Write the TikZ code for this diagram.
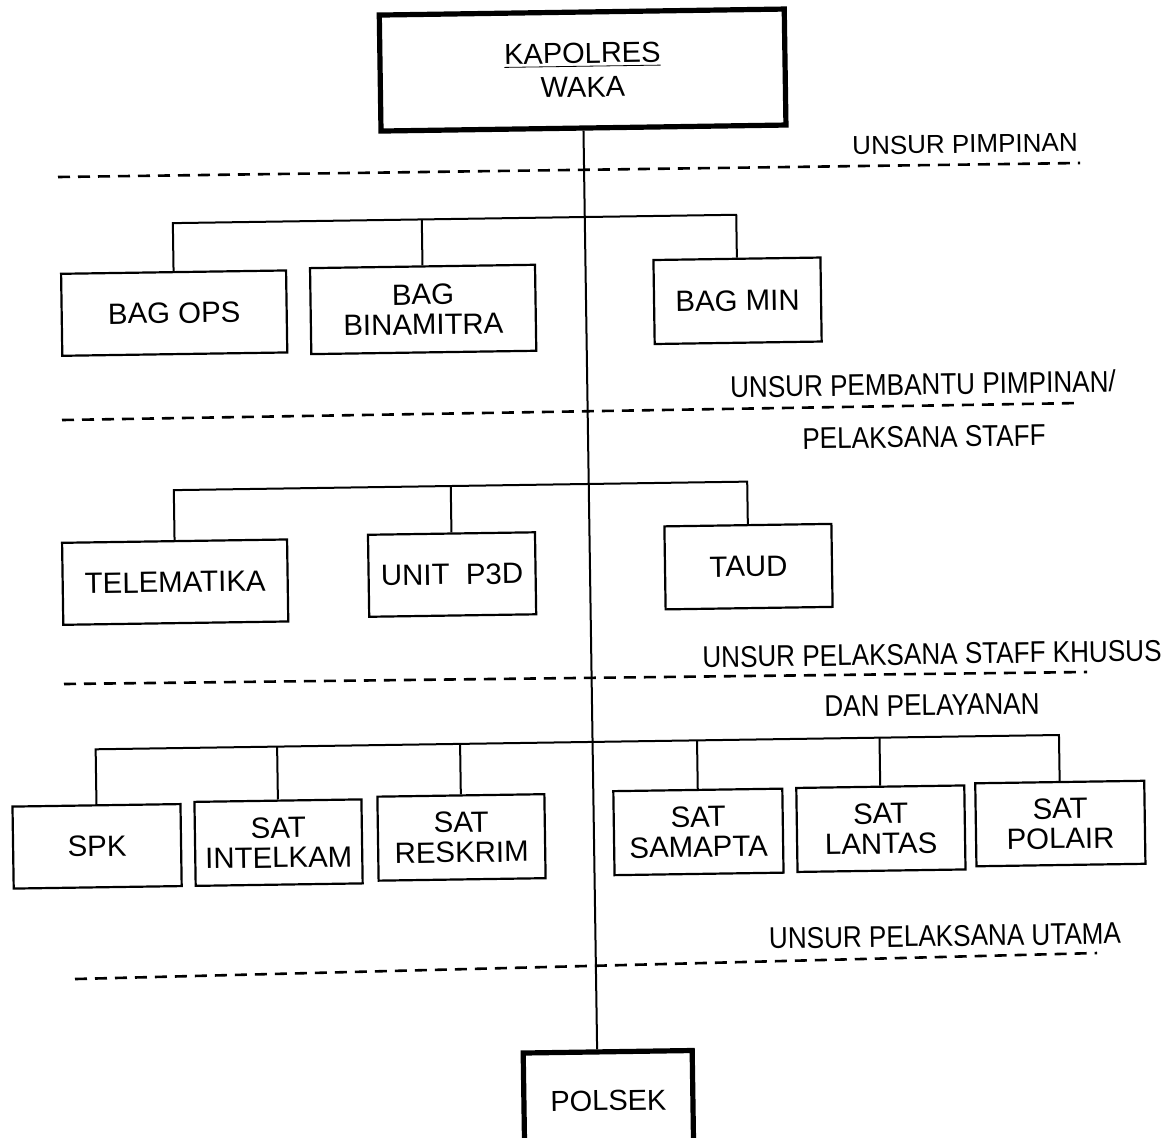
\documentclass[tikz,border=0pt]{standalone}
\usepackage{fontspec}
\setmainfont{Liberation Sans}
\newfontfamily\labelfont[FakeStretch=0.87]{Liberation Sans}
\begin{document}
\begin{tikzpicture}[x=0.5pt,y=-0.5pt,
  box/.style={draw, line width=1.1pt, align=center, inner sep=0pt, font=\fontsize{14.7}{15}\selectfont},
  headbox/.style={draw, line width=2.6pt, align=center, inner sep=0pt},
  conn/.style={line width=1pt},
  sep/.style={line width=1.3pt, dash pattern=on 6pt off 4pt},
  lab/.style={font=\labelfont\fontsize{15}{18}\selectfont, inner sep=0pt, rotate=0.85},
  labn/.style={font=\fontsize{13}{16}\selectfont, inner sep=0pt, rotate=0.85}]
\useasboundingbox (0,0) rectangle (1176,1137);
\clip (0,0) rectangle (1176,1137);
\fill[white] (0,0) rectangle (1176,1137);
\begin{scope}[rotate around={0.85:(588,568)}, transform shape]
  % head
  \node[headbox, minimum width=202.5pt, minimum height=58pt,
        font=\fontsize{14.5}{17}\selectfont] (kap) at (590,70) {\underline{KAPOLRES}\\WAKA};
  % tier 1
  \node[box, minimum width=112.5pt, minimum height=41pt] (ops) at (178,307) {BAG OPS};
  \node[box, minimum width=112.5pt, minimum height=43pt] (bin) at (427,307) {BAG\\BINAMITRA};
  \node[box, minimum width=83.5pt, minimum height=42pt] (min) at (741.5,303) {BAG MIN};
  % tier 2
  \node[box, minimum width=112.5pt, minimum height=41pt] (tel) at (175,576) {TELEMATIKA};
  \node[box, minimum width=83.5pt, minimum height=41pt] (p3d) at (452,572.5) {UNIT~~P3D};
  \node[box, minimum width=83.5pt, minimum height=41.5pt] (taud) at (748.5,569) {TAUD};
  % tier 3
  \node[box, minimum width=84pt, minimum height=41pt] (spk) at (93,839) {SPK};
  \node[box, minimum width=83.5pt, minimum height=42pt] (int) at (274.5,838) {SAT\\INTELKAM};
  \node[box, minimum width=83.5pt, minimum height=42pt] (res) at (457.5,835.5) {SAT\\RESKRIM};
  \node[box, minimum width=84.5pt, minimum height=42pt] (sam) at (694.5,833.5) {SAT\\SAMAPTA};
  \node[box, minimum width=84pt, minimum height=42pt] (lan) at (877,833) {SAT\\LANTAS};
  \node[box, minimum width=84.5pt, minimum height=41.5pt] (pol) at (1056.5,830.5) {SAT\\POLAIR};
  % polsek
  \node[headbox, minimum width=84.5pt, minimum height=49pt,
        font=\fontsize{14.5}{15}\selectfont] (polsek) at (600.5,1101) {POLSEK};
  % bars
  \coordinate (b1) at (590,217);
  \coordinate (b2) at (590,484);
  \coordinate (b3) at (590,742);
  % spine
  \draw[conn] (kap.south) -- (kap.south |- polsek.north);
  % tier 1 connectors
  \draw[conn] (ops.north) |- (b1) -| (min.north);
  \draw[conn] (bin.north) -- (bin.north |- b1);
  % tier 2 connectors
  \draw[conn] (tel.north) |- (b2) -| (taud.north);
  \draw[conn] (p3d.north) -- (p3d.north |- b2);
  % tier 3 connectors
  \draw[conn] (spk.north) |- (b3) -| (pol.north);
  \draw[conn] (int.north) -- (int.north |- b3);
  \draw[conn] (res.north) -- (res.north |- b3);
  \draw[conn] (sam.north) -- (sam.north |- b3);
  \draw[conn] (lan.north) -- (lan.north |- b3);
\end{scope}
% separators
\draw[sep] (58,177) -- (1080,163);
\draw[sep] (62,420) -- (1080,403);
\draw[sep] (64,684) -- (1087,672);
\draw[sep] (75,979) -- (1097,953);
% labels
\node[labn] (l1) at (965,144) {UNSUR PIMPINAN};
\node[lab] (l2) at (923,384) {UNSUR PEMBANTU PIMPINAN/};
\node[lab] (l3) at (924,437) {PELAKSANA STAFF};
\node[lab] (l4) at (932,654) {UNSUR PELAKSANA STAFF KHUSUS};
\node[lab] (l5) at (932,705) {DAN PELAYANAN};
\node[lab] (l6) at (945,936) {UNSUR PELAKSANA UTAMA};
\end{tikzpicture}
\end{document}
